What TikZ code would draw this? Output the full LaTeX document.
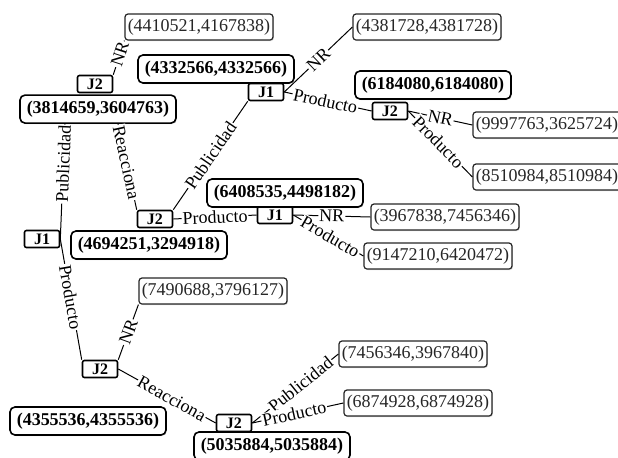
\documentclass[tikz,border=0pt]{standalone}
\usepackage{fontspec}
\setmainfont{Liberation Serif}
\usetikzlibrary{positioning,shadows}

\begin{document}
\begin{tikzpicture}[
    x=0.5pt, y=-0.5pt,
    every node/.style={font=\fontsize{9}{10}\selectfont},
    player/.style={rectangle, draw, line width=0.8pt, fill=white, rounded corners=1pt, minimum width=17.5pt, minimum height=8.5pt, inner sep=0.5pt, font=\fontsize{8}{8}\selectfont\bfseries},
    outcome/.style={rectangle, draw=black!85, line width=0.6pt, fill=white, text=black!85, rounded corners=1.5pt, minimum width=74pt, minimum height=13pt, inner sep=1pt, drop shadow={shadow xshift=0.5pt, shadow yshift=-0.5pt, opacity=0.3}},
    payoff/.style={rectangle, draw, line width=0.8pt, fill=white, rounded corners=2.5pt, minimum width=78pt, minimum height=14pt, inner sep=1pt, font=\fontsize{9}{10}\selectfont\bfseries, drop shadow={shadow xshift=0.5pt, shadow yshift=-0.5pt, opacity=0.3}},
    branch/.style={draw, line width=0.5pt},
    move/.style={sloped, fill=white, inner sep=0.5pt, midway}
]
\useasboundingbox (0,0) rectangle (618,457);

% jugadores
\node[player] (A) at (42,239) {J1};
\node[player] (B) at (95,84) {J2};
\node[player] (C) at (266,92) {J1};
\node[player] (D) at (155,219) {J2};
\node[player] (E) at (275,215) {J1};
\node[player] (F) at (390,111) {J2};
\node[player] (G) at (100,369) {J2};
\node[player] (H) at (234,423) {J2};

% pagos de equilibrio
\node[payoff, below=0.5pt of B, xshift=1.5pt] (bB) {(3814659,3604763)};
\node[payoff] (bC) at (216,69) {(4332566,4332566)};
\node[payoff] (bD) at (149,245) {(4694251,3294918)};
\node[payoff] (bE) at (285,193) {(6408535,4498182)};
\node[payoff] (bF) at (433,85) {(6184080,6184080)};
\node[payoff] (bG) at (88,421) {(4355536,4355536)};
\node[payoff] (bH) at (272,446) {(5035884,5035884)};

% resultados
\node[outcome] (T1) at (199,27) {(4410521,4167838)};
\node[outcome] (T2) at (427,27) {(4381728,4381728)};
\node[outcome] (T3) at (547,125) {(9997763,3625724)};
\node[outcome] (T4) at (547,177) {(8510984,8510984)};
\node[outcome] (T5) at (445,217) {(3967838,7456346)};
\node[outcome] (T6) at (438,256) {(9147210,6420472)};
\node[outcome] (T7) at (213,291) {(7490688,3796127)};
\node[outcome] (T8) at (413,354) {(7456346,3967840)};
\node[outcome] (T9) at (418,403) {(6874928,6874928)};

% ramas
\draw[branch] (A.east) -- node[move, pos=0.65] {Publicidad} ([xshift=-16.5pt]bB.south);
\draw[branch] (A.east) -- node[move, pos=0.48] {Producto} (G.north west);
\draw[branch] (B.north east) -- node[move, pos=0.6] {NR} (T1.south west);
\draw[branch] ([xshift=10pt]bB.south) -- node[move, pos=0.45] {Reacciona} (D.north west);
\draw[branch] (D.north east) -- node[move] {Publicidad} (C.south west);
\draw[branch] (D.east) -- node[move] {Producto} (E.west);
\draw[branch] (C.east) -- node[move] {NR} (T2.west);
\draw[branch] (C.east) -- node[move, pos=0.47] {Producto} (F.west);
\draw[branch] (F.east) -- node[move] {NR} (T3.west);
\draw[branch] (F.east) -- node[move, pos=0.47] {Producto} (T4.west);
\draw[branch] (E.east) -- node[move] {NR} (T5.west);
\draw[branch] (E.east) -- node[move, pos=0.53] {Producto} (T6.west);
\draw[branch] (G.north east) -- node[move] {NR} (T7.south west);
\draw[branch] (G.east) -- node[move, pos=0.55] {Reacciona} (H.west);
\draw[branch] (H.east) -- node[move, pos=0.56] {Publicidad} (T8.west);
\draw[branch] (H.east) -- node[move, pos=0.46] {Producto} (T9.west);

\end{tikzpicture}
\end{document}
